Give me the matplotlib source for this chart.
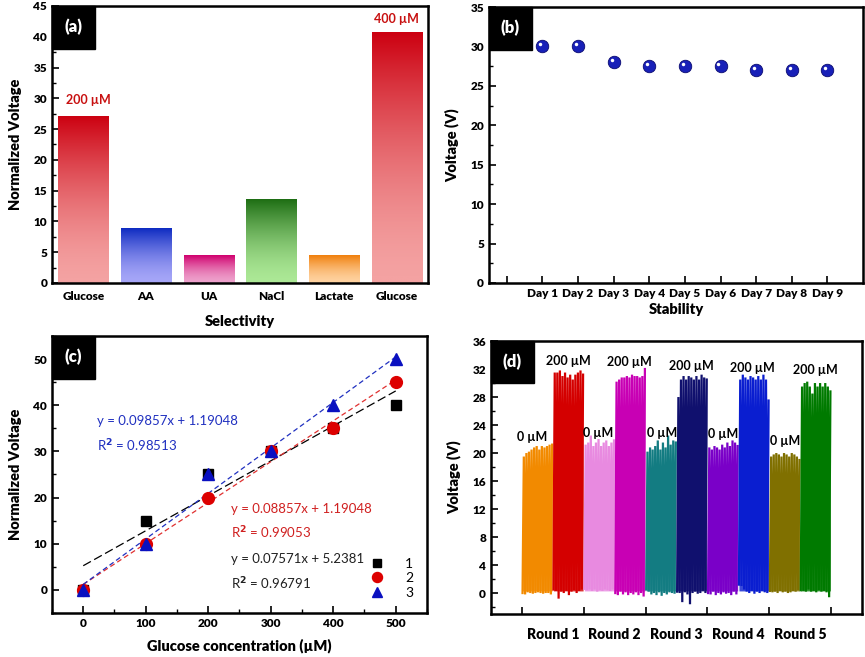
import numpy as np
import matplotlib
matplotlib.use('Agg')
import matplotlib.pyplot as plt
from matplotlib.colors import LinearSegmentedColormap
from matplotlib.patches import Rectangle
from matplotlib.ticker import MultipleLocator, FixedLocator
import matplotlib.transforms as mtransforms

plt.rcParams['font.family'] = ['Lato', 'DejaVu Sans']
plt.rcParams['font.weight'] = 'bold'
plt.rcParams['axes.linewidth'] = 1.8

# (a) selectivity
sel_labels = ['Glucose', 'AA', 'UA', 'NaCl', 'Lactate', 'Glucose']
sel_values = [27.2, 9.0, 4.5, 13.6, 4.5, 40.8]
sel_grad = [('#cc0010', '#f4a2a2'), ('#0a28c0', '#a6a6f8'), ('#d0006e', '#eea2cc'),
            ('#1e6e14', '#ace896'), ('#f07f0c', '#ffd2a0'), ('#cc0010', '#f4a2a2')]

# (b) stability
days = ['', 'Day 1', 'Day 2', 'Day 3', 'Day 4', 'Day 5', 'Day 6', 'Day 7', 'Day 8', 'Day 9']
day_volt = [30, 30, 28, 27.5, 27.5, 27.5, 27, 27, 27]

# (c) calibration
conc = [0, 100, 200, 300, 400, 500]
run1 = [0, 15, 25, 30, 35, 40]
run2 = [0, 10, 20, 30, 35, 45]
run3 = [0, 10, 25, 30, 40, 50]

# (d) cycling, peak values of each segment (0 uM, 200 uM per round)
seg_peaks = [
    [19.5, 20, 20.2, 20.5, 20.8, 21, 20.5, 21, 20.8, 21, 21.2, 21.2],
    [31.5, 31.5, 31.8, 31, 31.5, 30.8, 31.2, 30.5, 31.2, 31.5, 31.8, 31.2],
    [21.2, 21.5, 22.5, 21, 21.5, 22, 21, 21.5, 21.8, 21, 21.5, 21.8],
    [30.2, 30.5, 30.8, 30.8, 31, 30.8, 31.2, 31, 31, 30.8, 31, 32],
    [20.2, 20.8, 20.5, 21, 21.8, 20.5, 21.5, 20.8, 22.5, 21.2, 21.8, 21.5],
    [28, 30.5, 31, 30.5, 31, 30.8, 30.5, 31, 30.5, 31.2, 30.8, 30.5],
    [20.8, 20.5, 21, 20.8, 20.5, 21.2, 20.8, 21.5, 21, 21.8, 21.5, 21],
    [30.5, 31.2, 30.8, 30.5, 31, 30.8, 30.5, 31, 30.5, 31.2, 30.5, 27.5],
    [19.5, 19.8, 20, 19.8, 19.5, 20, 19.8, 19.5, 20, 19.8, 19.5, 19],
    [29.5, 30, 30.2, 29.5, 28.5, 30, 29.5, 30, 29.5, 30, 29.5, 28.8],
]
seg_troughs = [
    [0, -0.2, 0.1, 0, -0.1, 0, 0.1, 0, -0.1, 0, 0, -0.2],
    [0.5, 0.3, -0.8, 0.2, 0, 0.3, -0.3, 0.2, 0.4, 0, 0.3, 0.5],
    [0.6, 0.4, 0.5, 0.3, 0.5, 0.2, 0.4, 0.3, 0.5, 0.4, 0.3, 0.5],
    [0, -0.3, 0.2, -0.2, 0.1, -0.3, 0, -0.2, 0.1, -0.3, 0, -0.5],
    [0.5, 0.2, -0.2, 0, -0.3, 0.1, -0.4, 0, -0.2, 0.1, 0, -0.1],
    [0.2, 0, -1.3, 0.1, -0.2, -1.6, 0, 0.2, -0.1, 0, 0.3, 0],
    [0, -0.2, 0.2, -0.3, 0, -0.2, 0.1, -0.1, 0, -0.3, 0.2, -0.2],
    [1.2, 1.0, 0.5, 0.2, 0, 0.3, -0.1, 0.2, 0, 0.3, 0.1, 0],
    [0.3, 0.1, 0.2, 0, 0.3, 0.1, 0.2, 0, 0.1, 0.3, 0.2, 0.4],
    [0.4, 0.3, 0.2, 0.5, 0.2, 0.3, 0.1, 0.4, 0.2, 0.3, 0.1, -0.6],
]
seg_colors = ['#f28a00', '#d40000', '#e88ae0', '#c800b4', '#137c82',
              '#10106e', '#7a00c8', '#0a1ed0', '#807000', '#007a00']
rounds = ['Round 1', 'Round 2', 'Round 3', 'Round 4', 'Round 5']

fig = plt.figure(figsize=(8.65, 6.57), dpi=100)
ax_a = fig.add_axes([0.0601, 0.5693, 0.4347, 0.4216])
ax_b = fig.add_axes([0.5653, 0.5693, 0.4324, 0.4200])
ax_c = fig.add_axes([0.0601, 0.0670, 0.4335, 0.4216])
ax_d = fig.add_axes([0.5676, 0.0654, 0.4289, 0.4155])

TICK = 8.5
LAB = 10.5
W = 'heavy'


def tag(ax, s):
    ax.add_patch(Rectangle((0, 1 - 0.155), 0.115, 0.155, transform=ax.transAxes,
                           color='black', zorder=10, clip_on=False))
    ax.text(0.0575, 1 - 0.0775, s, transform=ax.transAxes, color='white',
            fontsize=12, fontweight=W, ha='center', va='center', zorder=11)


def style(ax):
    ax.tick_params(direction='in', which='both', labelsize=TICK, top=False, right=False)
    ax.tick_params(which='major', length=5, width=1.2)
    ax.tick_params(which='minor', length=3, width=1.0)
    for t in ax.get_xticklabels() + ax.get_yticklabels():
        t.set_fontweight(W)


# ---- (a)
xa = np.arange(len(sel_values))
bars = ax_a.bar(xa, sel_values, width=0.8, color='none', edgecolor='none')
grad = np.linspace(0, 1, 256).reshape(-1, 1)
for bar, (ctop, cbot) in zip(bars, sel_grad):
    x0, y0 = bar.get_xy()
    w, h = bar.get_width(), bar.get_height()
    cmap = LinearSegmentedColormap.from_list('g', [cbot, ctop])
    im = ax_a.imshow(grad ** 1.6, extent=[x0, x0 + w, y0, y0 + h], origin='lower',
                     cmap=cmap, aspect='auto', zorder=2)
    im.set_clip_path(bar)
ax_a.set_xlim(-0.5, 5.5)
ax_a.set_ylim(0, 45)
ax_a.set_xticks(xa)
ax_a.set_xticklabels(sel_labels)
ax_a.yaxis.set_major_locator(MultipleLocator(5))
ax_a.yaxis.set_minor_locator(MultipleLocator(2.5))
style(ax_a)
ax_a.tick_params(axis='x', length=0, pad=6)
ax_a.text(0.08, 29, '200 µM', color='#c81010', fontsize=9, fontweight='bold', ha='center')
ax_a.text(5.0, 42.3, '400 µM', color='#c81010', fontsize=9, fontweight='bold', ha='center')
ax_a.set_xlabel('Selectivity', fontsize=LAB, fontweight=W, labelpad=9)
ax_a.set_ylabel('Normalized Voltage', fontsize=LAB, fontweight=W, labelpad=8)
tag(ax_a, '(a)')

# ---- (b)
xb = np.arange(1, len(day_volt) + 1)
ax_b.plot(xb, day_volt, 'o', ms=9, color='#1820b8', mec='#0a0a70', mew=0.6, zorder=3)
hl = mtransforms.offset_copy(ax_b.transData, fig=fig, x=-1.5, y=1.5, units='points')
ax_b.plot(xb, day_volt, 'o', ms=2.5, color='white', mec='none', transform=hl, zorder=4)
ax_b.set_xlim(-0.5, 10)
ax_b.set_ylim(0, 35)
ax_b.set_xticks(np.arange(len(days)))
ax_b.set_xticklabels(days)
ax_b.yaxis.set_major_locator(MultipleLocator(5))
ax_b.yaxis.set_minor_locator(MultipleLocator(2.5))
style(ax_b)
ax_b.set_xlabel('Stability', fontsize=LAB, fontweight=W, labelpad=3)
ax_b.set_ylabel('Voltage (V)', fontsize=LAB, fontweight=W, labelpad=8)
tag(ax_b, '(b)')

# ---- (c)
xfit = np.array([0, 500])
for ys, col, ls in [(run1, 'black', (0, (7, 3))), (run2, '#e03030', (0, (4, 2.5))),
                    (run3, '#2030c0', (0, (4, 2.5)))]:
    k, b = np.polyfit(conc, ys, 1)
    ax_c.plot(xfit, k * xfit + b, color=col, lw=0.9, ls=ls, zorder=2)
ax_c.plot(conc, run1, 's', ms=7, color='black', label='1', zorder=3)
ax_c.plot(conc, run2, 'o', ms=8.5, color='#dd0000', label='2', zorder=4)
ax_c.plot(conc, run3, '^', ms=9, color='#0a10c0', label='3', zorder=5)
ax_c.set_xlim(-50, 550)
ax_c.set_ylim(-5, 55)
ax_c.xaxis.set_major_locator(MultipleLocator(100))
ax_c.xaxis.set_minor_locator(MultipleLocator(50))
ax_c.yaxis.set_major_locator(MultipleLocator(10))
ax_c.yaxis.set_minor_locator(MultipleLocator(5))
style(ax_c)
ax_c.legend(loc='lower right', frameon=False, handletextpad=1.0, markerscale=0.85,
            labelspacing=0.2, borderaxespad=0.6, prop={'weight': 'normal', 'size': 10})
ax_c.text(22, 36.6, 'y = 0.09857x + 1.19048', color='#2030c0', fontsize=9.5, fontweight='normal', va='center')
ax_c.text(22, 31.2, 'R$^2$ = 0.98513', color='#2030c0', fontsize=9.5, fontweight='normal', va='center')
ax_c.text(236, 17.5, 'y = 0.08857x + 1.19048', color='#d02020', fontsize=9.5, fontweight='normal', va='center')
ax_c.text(236, 12.3, 'R$^2$ = 0.99053', color='#d02020', fontsize=9.5, fontweight='normal', va='center')
ax_c.text(236, 6.7, 'y = 0.07571x + 5.2381', color='#202020', fontsize=9.5, fontweight='normal', va='center')
ax_c.text(236, 1.3, 'R$^2$ = 0.96791', color='#202020', fontsize=9.5, fontweight='normal', va='center')
ax_c.set_xlabel('Glucose concentration (µM)', fontsize=LAB, fontweight=W, labelpad=7)
ax_c.set_ylabel('Normalized Voltage', fontsize=LAB, fontweight=W, labelpad=8)
tag(ax_c, '(c)')

# ---- (d)
for i, (pk, tr, col) in enumerate(zip(seg_peaks, seg_troughs, seg_colors)):
    n = len(pk)
    start = i * 0.5
    xs = start + (np.arange(2 * n) + 0.5) * (0.5 / (2 * n))
    ys = np.empty(2 * n)
    ys[0::2] = tr
    ys[1::2] = pk
    ax_d.plot(xs, ys, color=col, lw=1.6, solid_joinstyle='miter', zorder=2)
    ax_d.fill_between(xs, ys, 0.3, color=col, alpha=0.8, lw=0, zorder=1)
zero_pos = [(0.17, 22.3), (1.24, 22.8), (2.27, 22.8), (3.25, 22.7), (4.25, 21.7)]
high_pos = [(0.75, 33.1), (1.74, 33.0), (2.74, 32.4), (3.73, 32.2), (4.74, 31.9)]
for (x, y) in zero_pos:
    ax_d.text(x, y, '0 µM', fontsize=9, fontweight='bold', ha='center', va='center')
for (x, y) in high_pos:
    ax_d.text(x, y, '200 µM', fontsize=9, fontweight='bold', ha='center', va='center')
ax_d.set_xlim(-0.5, 5.5)
ax_d.set_ylim(-3, 36)
ax_d.set_xticks(np.arange(6))
ax_d.set_xticklabels([''] * 6)
ax_d.xaxis.set_minor_locator(FixedLocator(np.arange(5) + 0.5))
ax_d.set_xticklabels(rounds, minor=True)
ax_d.yaxis.set_major_locator(MultipleLocator(4))
ax_d.yaxis.set_minor_locator(MultipleLocator(2))
style(ax_d)
ax_d.tick_params(axis='x', which='minor', length=0, pad=10, labelsize=10)
for t in ax_d.get_xticklabels(minor=True):
    t.set_fontweight(W)
ax_d.set_ylabel('Voltage (V)', fontsize=LAB, fontweight=W, labelpad=8)
tag(ax_d, '(d)')

fig.savefig('out.png', dpi=100)
